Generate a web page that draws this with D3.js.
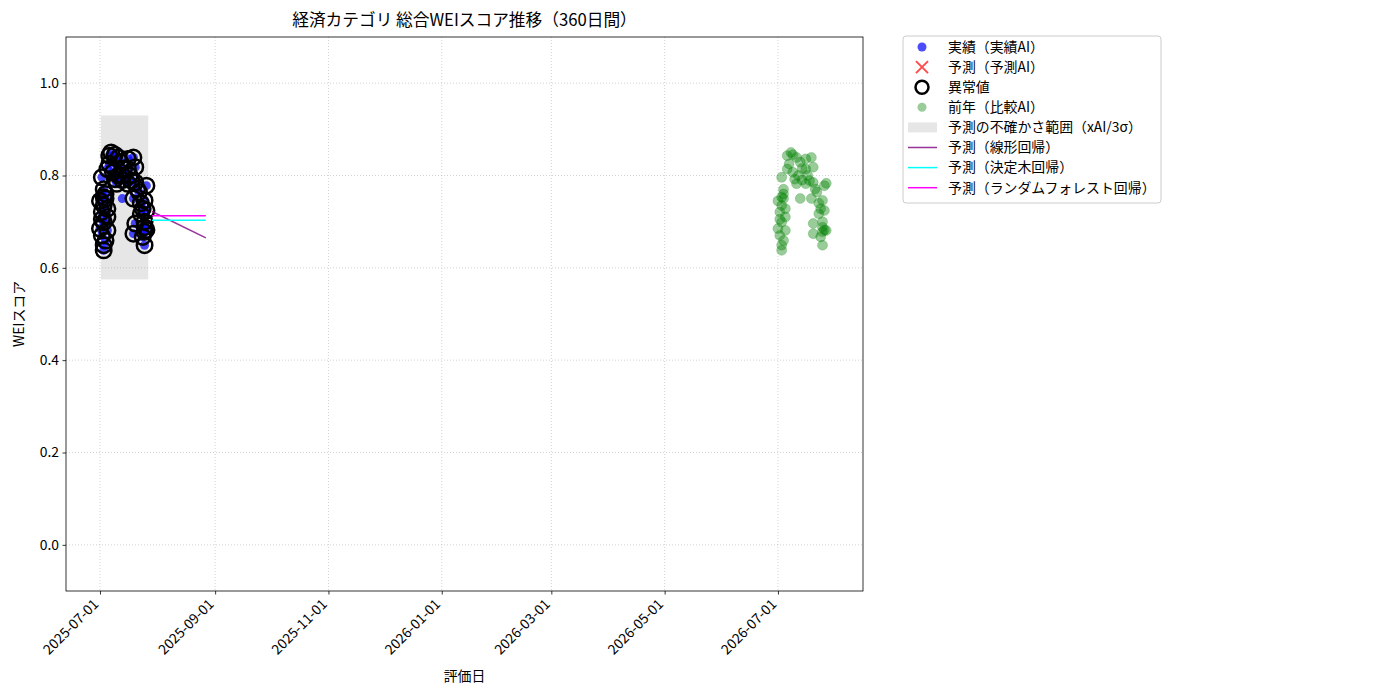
<!DOCTYPE html>
<html>
<head>
<meta charset="utf-8">
<script src="https://cdn.jsdelivr.net/npm/d3@7"></script>
<style>
  body { margin: 0; background: #fff; }
  svg text { font-family: "Noto Sans CJK JP", "Noto Sans", sans-serif; fill: #000; }
</style>
</head>
<body>
<div id="chart"></div>
<script>
// 実績（実績AI） — 日付, スコア, 異常値フラグ
var actualDates = [
  "2025-07-01","2025-07-02","2025-07-02","2025-07-03","2025-07-03","2025-07-03","2025-07-03",
  "2025-07-04","2025-07-04","2025-07-05","2025-07-05","2025-07-05","2025-07-01","2025-07-02",
  "2025-07-03","2025-07-04","2025-07-02","2025-07-03","2025-07-05","2025-07-06","2025-07-06",
  "2025-07-07","2025-07-08","2025-07-09","2025-07-09","2025-07-10","2025-07-11","2025-07-11",
  "2025-07-12","2025-07-13","2025-07-13","2025-07-14","2025-07-16","2025-07-16","2025-07-16",
  "2025-07-17","2025-07-18","2025-07-19","2025-07-19","2025-07-20","2025-07-20","2025-07-20",
  "2025-07-21","2025-07-22","2025-07-23","2025-07-23","2025-07-24","2025-07-25","2025-07-25",
  "2025-07-25","2025-07-25","2025-07-25","2025-07-26","2025-07-26","2025-07-24","2025-07-26",
  "2025-07-19","2025-07-13"
];
var actualValues = [
  0.685,0.721,0.670,0.638,0.649,0.699,0.735,
  0.659,0.750,0.681,0.710,0.728,0.745,0.705,
  0.753,0.760,0.796,0.770,0.814,0.843,0.825,
  0.850,0.807,0.792,0.845,0.782,0.839,0.800,
  0.829,0.750,0.790,0.815,0.836,0.814,0.782,
  0.800,0.789,0.839,0.750,0.818,0.785,0.696,
  0.771,0.764,0.717,0.740,0.728,0.700,0.746,
  0.688,0.678,0.649,0.724,0.778,0.667,0.682,
  0.674,0.800
];
var actualAnomaly = [
  1,1,1,1,1,1,1,
  1,1,1,1,1,1,1,
  1,1,1,1,1,1,1,
  1,1,1,1,1,1,1,
  1,0,1,1,1,1,1,
  1,1,1,1,1,1,1,
  1,1,1,1,1,1,1,
  1,1,1,1,1,1,1,
  1,1
];

// 前年（比較AI）
var prevDates = [
  "2026-07-01","2026-07-02","2026-07-02","2026-07-03","2026-07-03","2026-07-03","2026-07-03",
  "2026-07-04","2026-07-04","2026-07-05","2026-07-05","2026-07-05","2026-07-01","2026-07-02",
  "2026-07-03","2026-07-04","2026-07-03","2026-07-04","2026-07-06","2026-07-06","2026-07-07",
  "2026-07-08","2026-07-09","2026-07-09","2026-07-10","2026-07-11","2026-07-11","2026-07-12",
  "2026-07-13","2026-07-13","2026-07-14","2026-07-16","2026-07-16","2026-07-16","2026-07-17",
  "2026-07-18","2026-07-19","2026-07-19","2026-07-20","2026-07-20","2026-07-20","2026-07-21",
  "2026-07-22","2026-07-23","2026-07-23","2026-07-24","2026-07-25","2026-07-25","2026-07-25",
  "2026-07-25","2026-07-25","2026-07-26","2026-07-26","2026-07-24","2026-07-26","2026-07-20",
  "2026-07-14","2026-07-27","2026-07-27"
];
var prevValues = [
  0.685,0.721,0.670,0.638,0.649,0.699,0.735,
  0.659,0.750,0.681,0.710,0.728,0.745,0.705,
  0.753,0.760,0.796,0.770,0.814,0.843,0.825,
  0.850,0.807,0.845,0.792,0.782,0.839,0.800,
  0.829,0.750,0.790,0.836,0.814,0.782,0.800,
  0.789,0.839,0.750,0.818,0.785,0.696,0.771,
  0.764,0.717,0.740,0.728,0.700,0.746,0.688,
  0.678,0.649,0.724,0.778,0.667,0.682,0.674,
  0.815,0.783,0.681
];

// 予測（線形回帰 / 決定木回帰 / ランダムフォレスト回帰）
var predDates = ["2025-07-29", "2025-08-27"];
var linearValues = [0.722, 0.665];
var treeValues = [0.703, 0.703];
var forestValues = [0.713, 0.713];

// 予測の不確かさ範囲（xAI/3σ）
var bandDates = ["2025-07-01T12:00", "2025-07-27"];
var bandLow = [0.575, 0.575];
var bandHigh = [0.93, 0.93];

var xDomain = ["2025-06-12T17:00", "2026-08-15T19:00"];
var xTickDates = ["2025-07-01","2025-09-01","2025-11-01","2026-01-01","2026-03-01","2026-05-01","2026-07-01"];
var yTicks = [0.0, 0.2, 0.4, 0.6, 0.8, 1.0];

var legendItems = [
  {label: "実績（実績AI）", kind: "dot", color: "blue", opacity: 0.7},
  {label: "予測（予測AI）", kind: "cross", color: "red", opacity: 0.7},
  {label: "異常値", kind: "ring"},
  {label: "前年（比較AI）", kind: "dot", color: "green", opacity: 0.4},
  {label: "予測の不確かさ範囲（xAI/3σ）", kind: "patch"},
  {label: "予測（線形回帰）", kind: "line", color: "purple"},
  {label: "予測（決定木回帰）", kind: "line", color: "cyan"},
  {label: "予測（ランダムフォレスト回帰）", kind: "line", color: "magenta"}
];

var parse = function(s) { return s.length > 10 ? d3.timeParse("%Y-%m-%dT%H:%M")(s) : d3.timeParse("%Y-%m-%d")(s); };

var margin = {top: 37, right: 537, bottom: 109, left: 66};
var W = 1400, H = 700;
var width = W - margin.left - margin.right;
var height = H - margin.top - margin.bottom;

var svg = d3.select("#chart").append("svg")
  .attr("width", W).attr("height", H);

var g = svg.append("g")
  .attr("transform", "translate(" + margin.left + "," + margin.top + ")");

var x = d3.scaleTime().domain(xDomain.map(parse)).range([0, width]);
var y = d3.scaleLinear().domain([-0.1, 1.1]).range([height, 0]);

// grid
g.append("g").selectAll("line").data(xTickDates).enter().append("line")
  .attr("x1", function(d){ return x(parse(d)); })
  .attr("x2", function(d){ return x(parse(d)); })
  .attr("y1", 0).attr("y2", height)
  .attr("stroke", "#b0b0b0").attr("stroke-opacity", 0.7)
  .attr("stroke-width", 0.8).attr("stroke-dasharray", "1,2");
g.append("g").selectAll("line").data(yTicks).enter().append("line")
  .attr("x1", 0).attr("x2", width)
  .attr("y1", function(d){ return y(d); })
  .attr("y2", function(d){ return y(d); })
  .attr("stroke", "#b0b0b0").attr("stroke-opacity", 0.7)
  .attr("stroke-width", 0.8).attr("stroke-dasharray", "1,2");

// uncertainty band
g.append("rect")
  .attr("x", x(parse(bandDates[0])))
  .attr("width", x(parse(bandDates[1])) - x(parse(bandDates[0])))
  .attr("y", y(bandHigh[0]))
  .attr("height", y(bandLow[0]) - y(bandHigh[0]))
  .attr("fill", "gray").attr("fill-opacity", 0.2);

// previous year
g.append("g").selectAll("circle").data(prevDates).enter().append("circle")
  .attr("cx", function(d){ return x(parse(d)); })
  .attr("cy", function(d, i){ return y(prevValues[i]); })
  .attr("r", 5)
  .attr("fill", "green").attr("fill-opacity", 0.4)
  .attr("stroke", "green").attr("stroke-opacity", 0.4).attr("stroke-width", 0.5);

// actual
g.append("g").selectAll("circle").data(actualDates).enter().append("circle")
  .attr("cx", function(d){ return x(parse(d)); })
  .attr("cy", function(d, i){ return y(actualValues[i]); })
  .attr("r", 4.5)
  .attr("fill", "blue").attr("fill-opacity", 0.7);

// anomalies
var anomalyIdx = actualDates.map(function(d, i){ return i; }).filter(function(i){ return actualAnomaly[i]; });
g.append("g").selectAll("circle").data(anomalyIdx).enter().append("circle")
  .attr("cx", function(i){ return x(parse(actualDates[i])); })
  .attr("cy", function(i){ return y(actualValues[i]); })
  .attr("r", 7.75)
  .attr("fill", "none").attr("stroke", "black").attr("stroke-width", 2.5);

// prediction lines
var line = d3.line()
  .x(function(d){ return x(d[0]); })
  .y(function(d){ return y(d[1]); });
[[linearValues, "purple", 0.8], [treeValues, "cyan", 1], [forestValues, "magenta", 1]].forEach(function(s) {
  g.append("path")
    .datum(predDates.map(function(d, i){ return [parse(d), s[0][i]]; }))
    .attr("fill", "none")
    .attr("stroke", s[1]).attr("stroke-opacity", s[2])
    .attr("stroke-width", 1.5)
    .attr("d", line);
});

// axes
var xAxis = g.append("g")
  .attr("transform", "translate(0," + height + ")")
  .call(d3.axisBottom(x).tickValues(xTickDates.map(parse)).tickFormat(d3.timeFormat("%Y-%m-%d")).tickSize(3.5));
xAxis.select(".domain").remove();
xAxis.selectAll("line").attr("stroke", "#000").attr("stroke-width", 0.8);
xAxis.selectAll("text")
  .style("font-size", "13.9px")
  .attr("text-anchor", "end")
  .attr("x", 0).attr("y", 0).attr("dx", 0).attr("dy", 0)
  .attr("transform", "translate(-1,14) rotate(-45)");

var yAxis = g.append("g")
  .call(d3.axisLeft(y).tickValues(yTicks).tickFormat(d3.format(".1f")).tickSize(3.5).tickPadding(3.5));
yAxis.select(".domain").remove();
yAxis.selectAll("line").attr("stroke", "#000").attr("stroke-width", 0.8);
yAxis.selectAll("text").style("font-size", "13.9px");

g.append("rect")
  .attr("width", width).attr("height", height)
  .attr("fill", "none").attr("stroke", "#000").attr("stroke-width", 0.8);

// titles
svg.append("text")
  .attr("x", margin.left + width / 2).attr("y", 26)
  .attr("text-anchor", "middle").style("font-size", "16.7px")
  .text("経済カテゴリ 総合WEIスコア推移（360日間）");
svg.append("text")
  .attr("x", margin.left + width / 2).attr("y", 681)
  .attr("text-anchor", "middle").style("font-size", "13.9px")
  .text("評価日");
svg.append("text")
  .attr("transform", "translate(24," + (margin.top + height / 2) + ") rotate(-90)")
  .attr("text-anchor", "middle").style("font-size", "13.9px")
  .text("WEIスコア");

// legend
var lg = svg.append("g").attr("transform", "translate(903,36)");
lg.append("rect")
  .attr("width", 258).attr("height", 167).attr("rx", 3)
  .attr("fill", "#fff").attr("fill-opacity", 0.8)
  .attr("stroke", "#ccc").attr("stroke-width", 1);
legendItems.forEach(function(it, i) {
  var cy = 11 + i * 20.1;
  var row = lg.append("g").attr("transform", "translate(0," + cy + ")");
  if (it.kind === "dot") {
    row.append("circle").attr("cx", 19).attr("cy", 0).attr("r", 4.5)
      .attr("fill", it.color).attr("fill-opacity", it.opacity);
  } else if (it.kind === "cross") {
    row.append("path").attr("d", "M13,-6L25,6M13,6L25,-6")
      .attr("stroke", it.color).attr("stroke-opacity", it.opacity).attr("stroke-width", 2);
  } else if (it.kind === "ring") {
    row.append("circle").attr("cx", 19).attr("cy", 0).attr("r", 6.5)
      .attr("fill", "none").attr("stroke", "black").attr("stroke-width", 2.5);
  } else if (it.kind === "patch") {
    row.append("rect").attr("x", 5).attr("y", -5).attr("width", 29).attr("height", 10)
      .attr("fill", "gray").attr("fill-opacity", 0.2);
  } else {
    row.append("line").attr("x1", 5).attr("x2", 34).attr("y1", 0).attr("y2", 0)
      .attr("stroke", it.color).attr("stroke-opacity", it.color === "purple" ? 0.8 : 1)
      .attr("stroke-width", 1.5);
  }
  row.append("text").attr("x", 45).attr("y", 0).attr("dy", "0.35em")
    .style("font-size", "13.9px").text(it.label);
});
</script>
</body>
</html>
